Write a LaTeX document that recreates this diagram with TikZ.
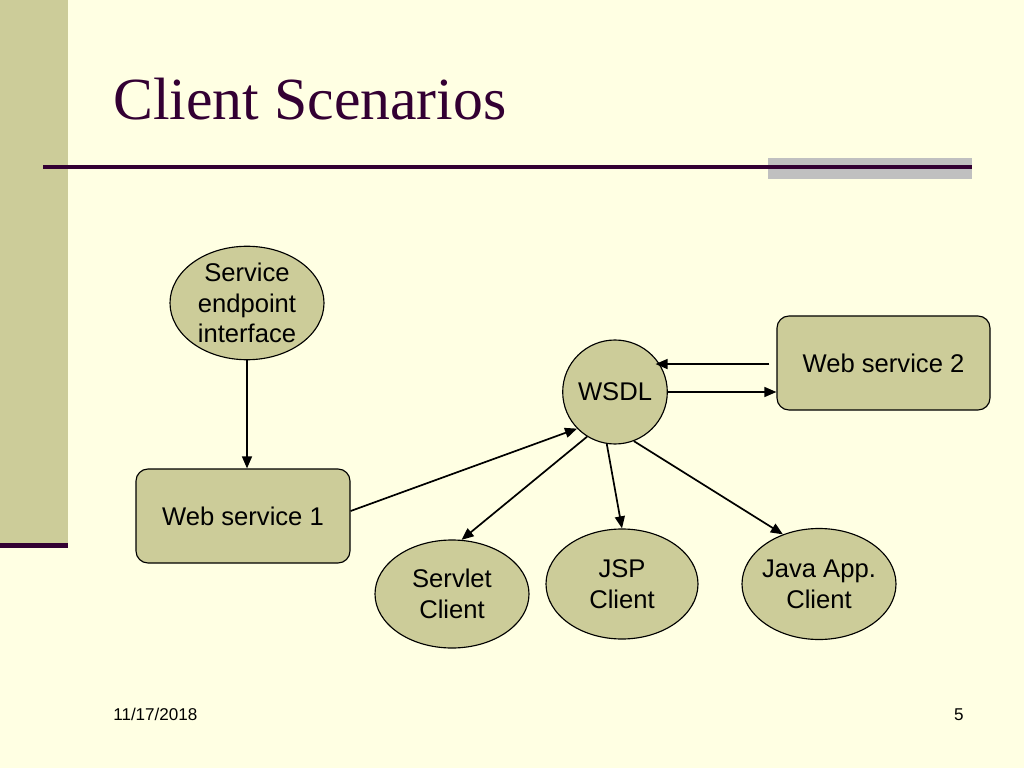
\documentclass[tikz,border=0pt]{standalone}
\usepackage{fontspec}
\setmainfont{Liberation Serif}
\newfontfamily\arialf{Liberation Sans}
\usetikzlibrary{shapes.geometric,arrows.meta}
\newcommand\pxu{0.703125pt}
\definecolor{bg}{HTML}{FFFFE3}
\definecolor{olive}{HTML}{CCCC99}
\definecolor{plum}{HTML}{330033}
\definecolor{grayband}{HTML}{C0C0C0}
\tikzset{
  every node/.style={font=\arialf\fontsize{18}{21.6}\selectfont, text=black},
  ell/.style={ellipse, draw=black, line width=0.8pt, fill=olive, inner sep=0pt, align=center},
  box/.style={rectangle, rounded corners=12*\pxu, draw=black, line width=0.8pt, fill=olive, inner sep=0pt, align=center},
  conn/.style={line width=1.2pt, -{Triangle[length=8.5pt,width=7pt]}}
}
\begin{document}
\begin{tikzpicture}[x=0.703125pt, y=-0.703125pt]
\useasboundingbox (0,0) rectangle (1024,768);
\fill[bg] (0,0) rectangle (1024,768);
% left band
\fill[olive] (0,0) rectangle (68,543);
\fill[plum] (0,543) rectangle (68,548);
% title rule
\fill[grayband] (768,158) rectangle (972,179);
\draw[plum, line width=2.2pt] (43,167) -- (972,167);
% title
\node[anchor=base west, font=\fontsize{42}{50}\selectfont, text=plum, inner sep=0pt] (title) at (113,120) {Client Scenarios};
% nodes
\node[ell, minimum width=154*\pxu, minimum height=112*\pxu] (sei) at (247,303) {Service\\endpoint\\interface};
\node[box, minimum width=214*\pxu, minimum height=94*\pxu] (ws1) at (243,516) {Web service 1};
\node[ell, minimum width=104*\pxu, minimum height=104*\pxu] (wsdl) at (615,392) {WSDL};
\node[box, minimum width=213*\pxu, minimum height=94*\pxu] (ws2) at (883.5,363) {Web service 2};
\node[ell, minimum width=154*\pxu, minimum height=108*\pxu] (servlet) at (452,594) {Servlet\\Client};
\node[ell, minimum width=152*\pxu, minimum height=110*\pxu] (jsp) at (622,584) {JSP\\Client};
\node[ell, inner xsep=-4pt, minimum width=154*\pxu, minimum height=111*\pxu] (java) at (819,584) {Java App.\\Client};
% connectors
\draw[conn] (sei.south) -- (ws1.north -| sei.south);
\draw[conn] ([yshift=3.5pt]ws1.east) -- (wsdl.224);
\draw[conn] ([xshift=-5pt]wsdl.32 -| ws2.west) -- ([xshift=-3pt]wsdl.32);
\draw[conn] (wsdl.east) -- (wsdl.east -| ws2.west);
\draw[conn] (wsdl.238) -- (servlet.80);
\draw[conn] (wsdl.261) -- (jsp.north);
\draw[conn] (wsdl.291) -- (java.126);
% footer
\node[font=\arialf\fontsize{12}{14}\selectfont, anchor=base west, inner sep=0pt] (date) at (113,720) {11/17/2018};
\node[font=\arialf\fontsize{12}{14}\selectfont, anchor=base east, inner sep=0pt] (page) at (964,720) {5};
\end{tikzpicture}
\end{document}
